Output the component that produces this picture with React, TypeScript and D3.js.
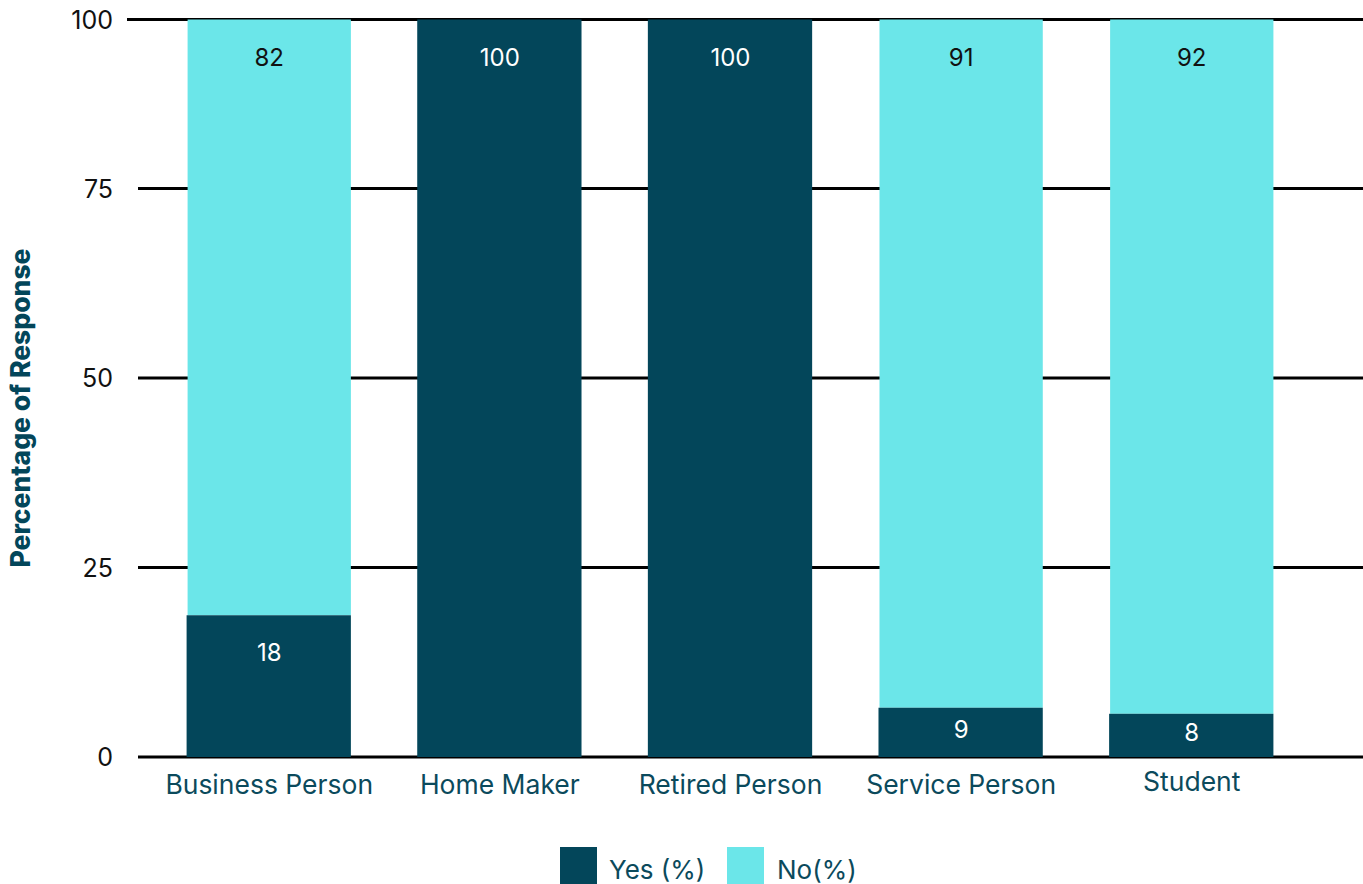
import React from "react";
import * as d3 from "d3";

const categories = ["Business Person", "Home Maker", "Retired Person", "Service Person", "Student"];
// bar heights as drawn (percent)
const yesValues = [18.7, 100, 100, 6.5, 5.7];
const noValues = [81.3, 0, 0, 93.5, 94.3];
// labels as printed
const yesLabels = ["18", "", "", "9", "8"];
const noLabels = ["82", "100", "100", "91", "92"];
const yTicks = [0, 25, 50, 75, 100];
const seriesNames = ["Yes (%)", "No(%)"];
const colors = ["#03465A", "#6BE6E9"];

const W = 1363;
const H = 884;
const FONT = "Inter, 'Noto Sans', sans-serif";

export default function App() {
  const x = d3.scaleBand<string>().domain(categories).range([153, 1388 - 80]).paddingInner(0.292).paddingOuter(0.15);
  const y = d3.scaleLinear().domain([0, 25, 50, 75, 100]).range([757, 567.5, 378, 188.5, 19.5]);

  const stacks = categories.map((c, i) => {
    const y0 = 0, y1 = yesValues[i], y2 = yesValues[i] + noValues[i];
    return { c, i, yes: [y0, y1], no: [y1, y2] };
  });

  return (
    <svg width={W} height={H} style={{ position: "absolute", left: 0, top: 0, background: "#fff" }}>
      {yTicks.map((t) => (
        <g key={t}>
          <line x1={t === 100 ? 127 : 138} x2={W} y1={y(t)} y2={y(t)} stroke="#000" strokeWidth={3} />
          <text x={113} y={y(t)} textAnchor="end" dominantBaseline="central" fontFamily={FONT} fontSize={25} fill="#111">
            {t}
          </text>
        </g>
      ))}
      {stacks.map((s) => {
        const bx = x(s.c)!;
        const bw = x.bandwidth();
        return (
          <g key={s.c}>
            {noValues[s.i] > 0 && (
              <rect x={bx} width={bw} y={y(s.no[1])} height={y(s.no[0]) - y(s.no[1])} fill={colors[1]} />
            )}
            <rect x={bx - 1} width={bw + 1} y={y(s.yes[1])} height={y(s.yes[0]) - y(s.yes[1])} fill={colors[0]} />
            {noValues[s.i] > 0 && noLabels[s.i] && (
              <text x={bx + bw / 2} y={y(s.no[1]) + 38} textAnchor="middle" dominantBaseline="central" fontFamily={FONT} fontSize={24} fill="#111">
                {noLabels[s.i]}
              </text>
            )}
            {noValues[s.i] === 0 && (
              <text x={bx + bw / 2} y={y(s.yes[1]) + 38} textAnchor="middle" dominantBaseline="central" fontFamily={FONT} fontSize={24} fill="#fff">
                {noLabels[s.i]}
              </text>
            )}
            {noValues[s.i] > 0 && yesLabels[s.i] && (
              <text
                x={bx + bw / 2}
                y={Math.min(y(s.yes[1]) + 37, (y(s.yes[1]) + y(s.yes[0])) / 2 - 3)}
                textAnchor="middle"
                dominantBaseline="central"
                fontFamily={FONT}
                fontSize={24}
                fill="#fff"
              >
                {yesLabels[s.i]}
              </text>
            )}
            <text x={bx + bw / 2} y={s.c === "Student" ? 781 : 784} textAnchor="middle" dominantBaseline="central" fontFamily={FONT} fontSize={26.5} fill="#0B4A5C">
              {s.c}
            </text>
          </g>
        );
      })}
      <text
        transform={`translate(20,408) rotate(-90)`}
        textAnchor="middle"
        dominantBaseline="central"
        fontFamily={FONT}
        fontWeight={800}
        fontSize={26.5}
        fill="#03465A"
      >
        Percentage of Response
      </text>
      <g>
        <rect x={560} y={847} width={37} height={37} fill={colors[0]} />
        <text x={609} y={869} dominantBaseline="central" fontFamily={FONT} fontSize={26} fill="#0B4A5C">
          {seriesNames[0]}
        </text>
        <rect x={727} y={847} width={37} height={37} fill={colors[1]} />
        <text x={777} y={869} dominantBaseline="central" fontFamily={FONT} fontSize={26} fill="#0B4A5C">
          {seriesNames[1]}
        </text>
      </g>
    </svg>
  );
}
